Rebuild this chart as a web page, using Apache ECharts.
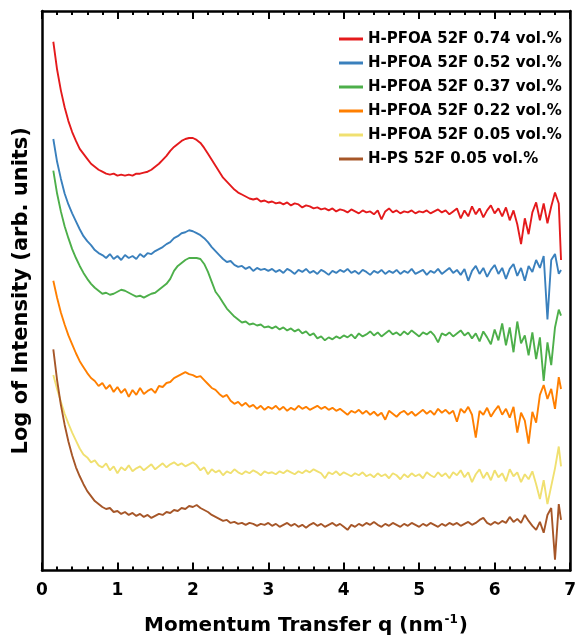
<!DOCTYPE html>
<html>
<head>
<meta charset="utf-8">
<script src="https://cdn.jsdelivr.net/npm/echarts@6/dist/echarts.min.js"></script>
<style>
  html, body { margin: 0; padding: 0; background: #fff; }
  #chart { width: 579px; height: 641px; }
</style>
</head>
<body>
<div id="chart"></div>
<script>
// Momentum transfer q (nm^-1) sampling points shared by all scattering curves
const q = [
  0.15,0.20,0.25,0.30,0.35,0.40,0.45,0.50,0.55,0.60,
  0.65,0.70,0.75,0.80,0.85,0.90,0.95,1.00,1.05,1.10,
  1.15,1.20,1.25,1.30,1.35,1.40,1.45,1.50,1.55,1.60,
  1.65,1.70,1.75,1.80,1.85,1.90,1.95,2.00,2.05,2.10,
  2.15,2.20,2.25,2.30,2.35,2.40,2.45,2.50,2.55,2.60,
  2.65,2.70,2.75,2.80,2.85,2.90,2.95,3.00,3.05,3.10,
  3.15,3.20,3.25,3.30,3.35,3.40,3.45,3.50,3.55,3.60,
  3.65,3.70,3.75,3.80,3.85,3.90,3.95,4.00,4.05,4.10,
  4.15,4.20,4.25,4.30,4.35,4.40,4.45,4.50,4.55,4.60,
  4.65,4.70,4.75,4.80,4.85,4.90,4.95,5.00,5.05,5.10,
  5.15,5.20,5.25,5.30,5.35,5.40,5.45,5.50,5.55,5.60,
  5.65,5.70,5.75,5.80,5.85,5.90,5.95,6.00,6.05,6.10,
  6.15,6.20,6.25,6.30,6.35,6.40,6.45,6.50,6.55,6.60,
  6.65,6.70,6.75,6.80,6.85,6.88
];

// Log intensity (arb. units, curves vertically offset for clarity)
const pfoa074 = [
  558,530,509,492,478,467,458,450,445,440,
  435,432,429,427,425,424,425,423,424,423,
  424,423,425,425,426,427,429,432,435,439,
  443,448,452,455,458,460,461,461,459,456,
  451,445,439,433,427,421,417,413,409,406,
  404,402,400,399,400,397,398,396,397,395,
  396,394,396,393,395,394,391,393,392,390,
  391,389,390,388,390,387,389,388,386,389,
  387,385,388,386,387,384,388,379,387,390,
  386,388,385,387,386,388,385,387,386,388,
  385,387,389,386,388,384,387,390,380,388,
  382,392,384,390,381,388,393,385,390,382,
  391,378,388,374,354,380,364,386,396,378,
  395,375,392,406,395,338
];
const pfoa052 = [
  460,437,420,405,394,385,377,369,362,357,
  353,348,345,343,340,344,339,342,338,343,
  340,342,339,344,341,345,344,347,349,351,
  354,356,360,362,365,366,368,367,365,363,
  360,356,351,347,343,339,336,337,333,331,
  332,329,331,327,330,328,329,327,329,326,
  328,325,329,327,324,328,326,329,325,327,
  324,328,326,323,327,325,328,326,329,325,
  327,324,328,326,323,327,325,328,324,327,
  325,328,324,327,325,329,324,326,328,323,
  327,325,329,324,327,330,325,328,323,329,
  317,327,332,324,330,321,328,333,324,330,
  319,329,334,322,330,317,332,326,338,330,
  342,278,338,344,324,328
];
const pfoa037 = [
  428,405,387,372,360,349,340,332,325,319,
  314,310,307,304,305,303,304,306,308,307,
  305,303,301,302,300,302,304,305,308,311,
  314,319,327,332,335,338,340,340,340,339,
  334,326,316,306,301,295,289,285,281,278,
  275,276,273,274,272,273,270,271,269,271,
  268,270,267,269,266,268,264,266,262,264,
  259,261,257,260,258,261,259,262,260,263,
  259,264,261,263,266,262,265,261,264,267,
  263,265,262,266,263,267,264,261,265,263,
  266,262,255,264,262,265,261,264,267,262,
  265,259,264,256,266,260,253,268,257,274,
  252,270,245,276,254,262,242,265,238,260,
  216,255,232,270,288,282
];
const pfoa022 = [
  317,300,285,273,262,253,244,236,230,224,
  219,216,211,214,208,212,205,210,204,208,
  200,207,202,209,203,206,208,204,211,210,
  214,215,219,221,223,225,223,222,220,221,
  217,213,209,207,203,200,202,196,193,195,
  191,194,190,192,188,191,187,190,188,191,
  187,190,186,189,187,191,188,190,187,189,
  191,188,190,187,189,186,188,185,182,186,
  184,187,183,186,182,185,181,184,177,186,
  183,180,184,186,182,185,181,184,187,183,
  186,182,188,184,187,183,186,175,188,184,
  190,182,159,186,182,189,180,186,191,182,
  188,179,190,164,184,176,153,185,174,202,
  212,198,208,188,220,208
];
const pfoa005 = [
  222,208,195,183,173,164,156,148,142,139,
  134,136,131,129,133,126,130,123,129,126,
  131,125,128,130,126,129,132,127,130,133,
  129,132,134,131,133,130,132,134,131,126,
  129,122,127,124,126,121,125,123,127,124,
  122,125,123,126,124,121,125,123,124,122,
  125,123,126,124,122,125,123,126,124,127,
  125,123,118,124,122,125,121,124,122,120,
  123,121,124,120,122,119,123,120,122,118,
  123,121,117,122,119,123,120,122,118,124,
  121,119,124,120,123,118,124,121,126,119,
  124,114,122,127,118,124,116,126,119,123,
  115,127,120,124,114,122,117,125,112,97,
  116,92,110,128,150,130
];
const ps005 = [
  248,217,192,172,155,141,129,120,112,105,
  100,95,92,89,87,88,84,85,82,84,
  81,83,80,82,79,81,78,80,82,81,
  84,83,86,85,88,87,90,89,91,88,
  86,84,81,79,77,75,76,73,74,72,
  73,71,73,72,70,72,71,73,70,72,
  69,71,73,70,72,69,71,68,71,73,
  70,72,69,71,73,70,72,69,66,71,
  69,72,70,73,71,74,71,69,72,70,
  73,71,69,72,70,73,71,69,72,70,
  73,71,69,72,70,73,71,73,70,72,
  74,71,73,76,78,73,71,74,72,75,
  73,79,74,77,73,81,75,70,66,74,
  63,81,88,36,92,76
];

const seriesNames = [
  'H-PFOA 52F 0.74 vol.%',
  'H-PFOA 52F 0.52 vol.%',
  'H-PFOA 52F 0.37 vol.%',
  'H-PFOA 52F 0.22 vol.%',
  'H-PFOA 52F 0.05 vol.%',
  'H-PS 52F 0.05 vol.%'
];
const seriesValues = [pfoa074, pfoa052, pfoa037, pfoa022, pfoa005, ps005];
const seriesColors = ['#e41a1c', '#3a80bd', '#4daf4a', '#ff7f00', '#f0e070', '#a65628'];

// Axis ranges
const qMin = 0, qMax = 7, qStep = 1;
const yMin = 25, yMax = 589;

const FONT = 'DejaVu Sans';
const frameLine = { show: true, onZero: false, lineStyle: { color: '#000', width: 2.5 } };

const chart = echarts.init(document.getElementById('chart'), null, { renderer: 'canvas' });

chart.setOption({
  animation: false,
  backgroundColor: '#fff',
  grid: { left: 42, right: 4, top: 11, bottom: 66, containLabel: false },
  legend: {
    orient: 'vertical',
    left: 334,
    top: 22,
    icon: 'rect',
    itemWidth: 24,
    itemHeight: 3,
    itemGap: 0,
    textStyle: { fontFamily: FONT, fontWeight: 'bold', fontSize: 15, color: '#000', lineHeight: 24 },
    data: seriesNames
  },
  xAxis: [
    {
      type: 'value', position: 'bottom',
      min: qMin, max: qMax, interval: qStep,
      name: '{t|Momentum Transfer q (nm}{s|-1}{t|)}',
      nameLocation: 'middle',
      nameGap: 43,
      nameTextStyle: {
        rich: {
          t: { fontFamily: FONT, fontWeight: 'bold', fontSize: 20, color: '#000' },
          s: { fontFamily: FONT, fontWeight: 'bold', fontSize: 12, color: '#000', padding: [0, 1, 13, 1] }
        }
      },
      axisLine: frameLine,
      axisTick: { show: true, inside: true, length: 8, lineStyle: { color: '#000', width: 2 } },
      minorTick: { show: true, splitNumber: 5, length: 4, lineStyle: { color: '#000', width: 2 } },
      axisLabel: { fontFamily: FONT, fontWeight: 'bold', fontSize: 17, color: '#000', margin: 12 },
      splitLine: { show: false }
    },
    {
      type: 'value', position: 'top',
      min: qMin, max: qMax, interval: qStep,
      axisLine: frameLine,
      axisTick: { show: true, inside: true, length: 8, lineStyle: { color: '#000', width: 2 } },
      minorTick: { show: true, splitNumber: 5, length: 4, lineStyle: { color: '#000', width: 2 } },
      axisLabel: { show: false },
      splitLine: { show: false }
    }
  ],
  yAxis: [
    {
      type: 'value', position: 'left',
      min: yMin, max: yMax,
      name: 'Log of Intensity (arb. units)',
      nameLocation: 'middle',
      nameRotate: 90,
      nameGap: 10,
      nameTextStyle: { fontFamily: FONT, fontWeight: 'bold', fontSize: 21, color: '#000' },
      axisLine: frameLine,
      axisTick: { show: false },
      axisLabel: { show: false },
      splitLine: { show: false }
    },
    {
      type: 'value', position: 'right',
      min: yMin, max: yMax,
      axisLine: frameLine,
      axisTick: { show: false },
      axisLabel: { show: false },
      splitLine: { show: false }
    }
  ],
  series: seriesNames.map((name, k) => ({
    name: name,
    type: 'line',
    xAxisIndex: 0,
    yAxisIndex: 0,
    symbol: 'none',
    showSymbol: false,
    clip: true,
    lineStyle: { color: seriesColors[k], width: 1.9 },
    itemStyle: { color: seriesColors[k] },
    data: q.map((x, i) => [x, seriesValues[k][i]])
  }))
});
</script>
</body>
</html>
